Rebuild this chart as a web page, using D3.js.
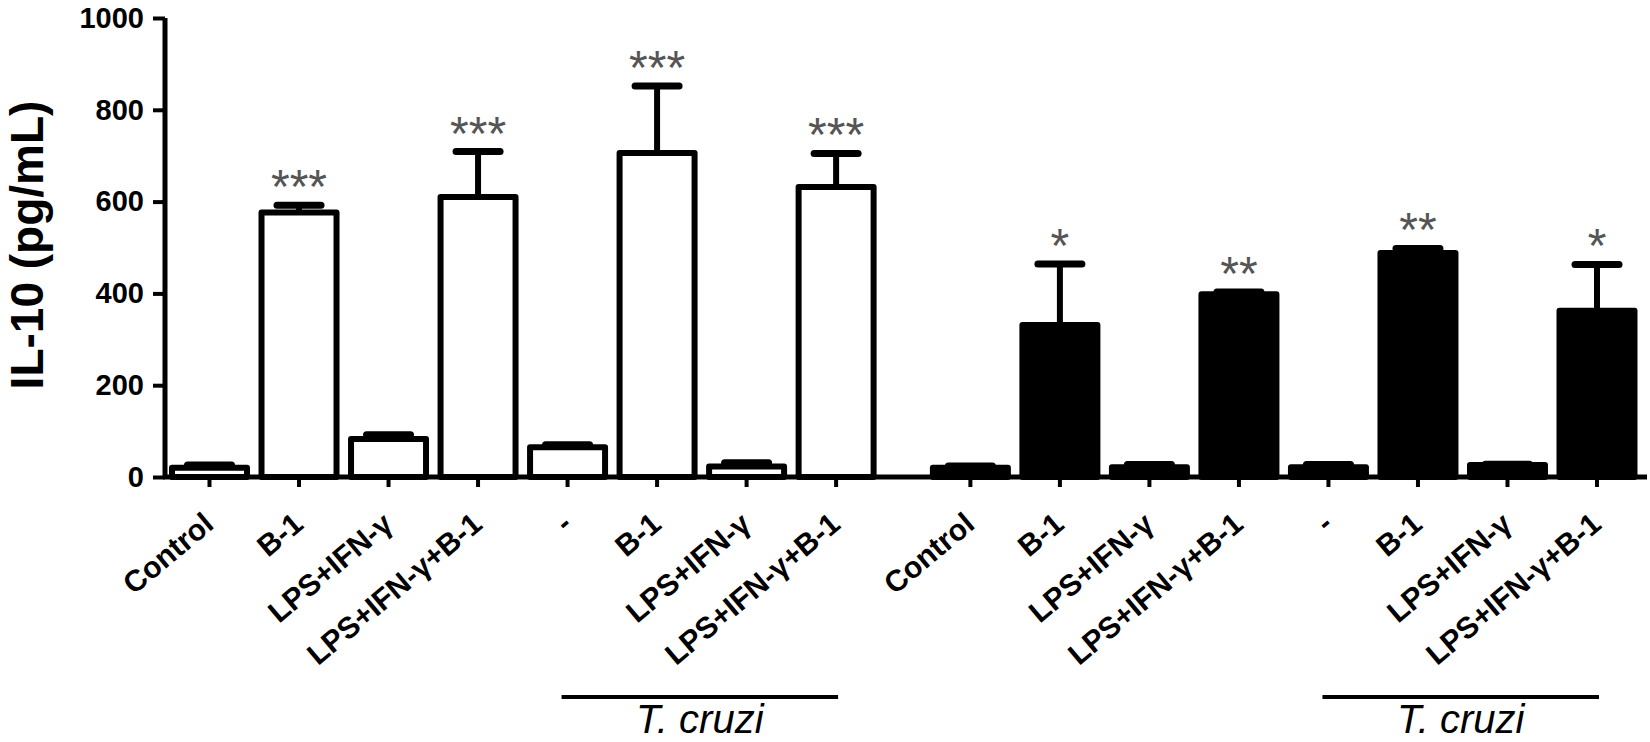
<!DOCTYPE html>
<html>
<head>
<meta charset="utf-8">
<script src="https://cdn.jsdelivr.net/npm/d3@7"></script>
<style>
  html, body { margin: 0; padding: 0; background: #fff; }
  svg { display: block; }
</style>
</head>
<body>
<svg id="chart" width="1650" height="742"></svg>
<script>
// ---------- data ----------
const categories = ["Control", "B-1", "LPS+IFN-γ", "LPS+IFN-γ+B-1", "-", "B-1", "LPS+IFN-γ", "LPS+IFN-γ+B-1"];
const whiteMeans  = [20, 576, 83, 610, 65, 706, 23, 632];
const whiteErrors = [6, 16, 9, 99, 5, 146, 8, 73];
const whiteSig    = ["", "***", "", "***", "", "***", "", "***"];
const blackMeans  = [20, 331, 21, 398, 21, 488, 26, 362];
const blackErrors = [4, 133, 6, 5, 6, 10, 2, 101];
const blackSig    = ["", "*", "", "**", "", "**", "", "*"];
const yTicks = [0, 200, 400, 600, 800, 1000];
const yTitle = "IL-10 (pg/mL)";
const bracketLabel = "T. cruzi";
// slot positions: white group 0..7, black group after a half-slot gap
const whiteSlots = [0, 1, 2, 3, 4, 5, 6, 7];
const blackSlots = [8.5, 9.5, 10.5, 11.5, 12.5, 13.5, 14.5, 15.5];
const bracketRanges = [[4, 7], [12.5, 15.5]];

// ---------- scales ----------
const svg = d3.select("#chart");
const FONT = "'Liberation Sans', Arial, Helvetica, sans-serif";
const axisX = 165, axisY = 477;
const y = d3.scaleLinear().domain([0, 1000]).range([axisY, 18]);
const x = d3.scaleLinear().domain([0, 15.5]).range([209.5, 1597]);
const barW = 75;

const bars = [];
categories.forEach((c, i) => {
  bars.push({cat: c, slot: whiteSlots[i], v: whiteMeans[i], e: whiteErrors[i], sig: whiteSig[i], fill: "#fff"});
});
categories.forEach((c, i) => {
  bars.push({cat: c, slot: blackSlots[i], v: blackMeans[i], e: blackErrors[i], sig: blackSig[i], fill: "#000"});
});

// ---------- bars ----------
svg.append("g").selectAll("rect").data(bars).join("rect")
  .attr("x", d => x(d.slot) - barW / 2)
  .attr("y", d => y(d.v))
  .attr("width", barW)
  .attr("height", d => y(0) - y(d.v))
  .attr("fill", d => d.fill)
  .attr("stroke", "#000")
  .attr("stroke-width", 6)
  .attr("stroke-linejoin", "round");

// ---------- error bars ----------
const eg = svg.append("g");
eg.selectAll("line.v").data(bars).join("line").attr("class", "v")
  .attr("x1", d => x(d.slot)).attr("x2", d => x(d.slot))
  .attr("y1", d => y(d.v)).attr("y2", d => y(d.v + d.e))
  .attr("stroke", "#000").attr("stroke-width", 6);
eg.selectAll("line.c").data(bars).join("line").attr("class", "c")
  .attr("x1", d => x(d.slot) - 22).attr("x2", d => x(d.slot) + 22)
  .attr("y1", d => y(d.v + d.e)).attr("y2", d => y(d.v + d.e))
  .attr("stroke", "#000").attr("stroke-width", 7).attr("stroke-linecap", "round");

// ---------- significance ----------
svg.append("g").selectAll("text").data(bars.filter(d => d.sig)).join("text")
  .attr("x", d => x(d.slot))
  .attr("y", d => y(d.v + d.e) - 2)
  .attr("text-anchor", "middle")
  .attr("font-family", FONT)
  .attr("font-size", 48)
  .attr("fill", "#555")
  .text(d => d.sig);

// ---------- y axis ----------
const yAxis = d3.axisLeft(y).tickValues(yTicks).tickSize(12).tickPadding(9).tickFormat(d3.format("d"));
const gy = svg.append("g").attr("transform", `translate(${axisX},0)`).call(yAxis);
gy.select(".domain").attr("stroke", "#000").attr("stroke-width", 5).attr("d", `M0,${y(1000)}V${axisY}`);
gy.selectAll(".tick line").attr("stroke", "#000").attr("stroke-width", 4);
gy.selectAll(".tick text").attr("font-family", FONT).attr("font-size", 29).attr("font-weight", "bold").attr("fill", "#000");

svg.append("text")
  .attr("transform", `translate(43,245) rotate(-90)`)
  .attr("text-anchor", "middle")
  .attr("font-family", FONT).attr("font-size", 46).attr("font-weight", "bold")
  .text(yTitle);

// ---------- x axis ----------
svg.append("line")
  .attr("x1", axisX - 2).attr("x2", 1647)
  .attr("y1", axisY).attr("y2", axisY)
  .attr("stroke", "#000").attr("stroke-width", 5);
svg.append("g").selectAll("line").data(bars).join("line")
  .attr("x1", d => x(d.slot)).attr("x2", d => x(d.slot))
  .attr("y1", axisY).attr("y2", axisY + 10)
  .attr("stroke", "#000").attr("stroke-width", 4);

svg.append("g").selectAll("text").data(bars).join("text")
  .attr("transform", d => `translate(${x(d.slot) + 6},${axisY + 50}) rotate(-40)`)
  .attr("text-anchor", "end")
  .attr("font-family", FONT).attr("font-size", 30).attr("font-weight", "bold")
  .text(d => d.cat);

// ---------- T. cruzi brackets ----------
const bg = svg.append("g");
bracketRanges.forEach(r => {
  const x1 = x(r[0]) - 6, x2 = x(r[1]) + 2;
  bg.append("line").attr("x1", x1).attr("x2", x2).attr("y1", 697).attr("y2", 697)
    .attr("stroke", "#000").attr("stroke-width", 4);
  bg.append("text").attr("x", (x1 + x2) / 2).attr("y", 733)
    .attr("text-anchor", "middle")
    .attr("font-family", FONT).attr("font-size", 40).attr("font-style", "italic")
    .text(bracketLabel);
});
</script>
</body>
</html>
